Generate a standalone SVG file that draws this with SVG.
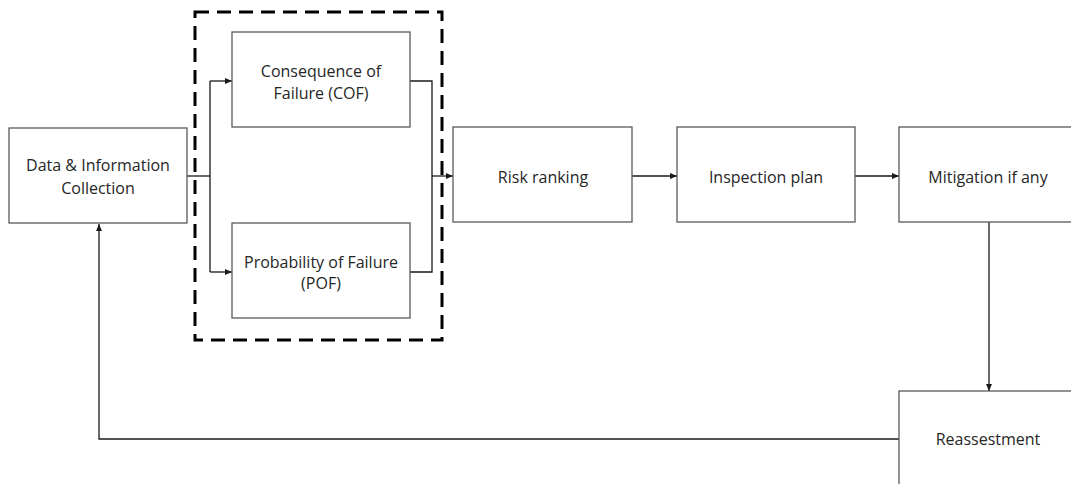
<svg xmlns="http://www.w3.org/2000/svg" width="1071" height="484" viewBox="0 0 1071 484">
  <defs>
    <marker id="arrow" markerWidth="7" markerHeight="6" refX="7" refY="3" orient="auto" markerUnits="userSpaceOnUse">
      <path d="M0,0 L7,3 L0,6 Z" fill="#1a1a1a"/>
    </marker>
    <style>
      .box { fill: #ffffff; stroke: #5a5a5a; stroke-width: 1.3; }
      .lbl { font-family: "Open Sans", "Liberation Sans", sans-serif; font-size: 16px; fill: #262626; text-anchor: middle; }
      .wire { fill: none; stroke: #1a1a1a; stroke-width: 1.3; }
      .group { fill: none; stroke: #000000; stroke-width: 3; stroke-dasharray: 14 8; }
    </style>
  </defs>
  <rect width="1071" height="484" fill="#ffffff"/>

  <!-- dashed grouping around the two assessment boxes -->
  <rect class="group" x="195" y="12" width="247" height="328"/>

  <g id="connectors">
    <!-- split to COF / POF -->
    <path class="wire" d="M187,176 H210"/>
    <path class="wire" d="M210,81 V272"/>
    <path class="wire" d="M210,81 H232" marker-end="url(#arrow)"/>
    <path class="wire" d="M210,272 H232" marker-end="url(#arrow)"/>
    <!-- merge into risk ranking -->
    <path class="wire" d="M410,81 H432 V272 H410"/>
    <path class="wire" d="M432,176 H453" marker-end="url(#arrow)"/>
    <path class="wire" d="M632,176 H677" marker-end="url(#arrow)"/>
    <path class="wire" d="M855,176 H899" marker-end="url(#arrow)"/>
    <path class="wire" d="M989,222 V391" marker-end="url(#arrow)"/>
    <!-- feedback loop -->
    <path class="wire" d="M899,439 H99 V224" marker-end="url(#arrow)"/>
  </g>

  <g id="data-collection">
    <rect class="box" x="9" y="128" width="178" height="95"/>
    <text class="lbl" x="98" y="171">Data &amp; Information</text>
    <text class="lbl" x="98" y="194">Collection</text>
  </g>

  <g id="cof">
    <rect class="box" x="232" y="32" width="178" height="95"/>
    <text class="lbl" x="321" y="77">Consequence of</text>
    <text class="lbl" x="321" y="99">Failure (COF)</text>
  </g>

  <g id="pof">
    <rect class="box" x="232" y="223" width="178" height="95"/>
    <text class="lbl" x="321" y="268">Probability of Failure</text>
    <text class="lbl" x="321" y="289">(POF)</text>
  </g>

  <g id="risk-ranking">
    <rect class="box" x="453" y="127" width="179" height="95"/>
    <text class="lbl" x="543" y="183">Risk ranking</text>
  </g>

  <g id="inspection-plan">
    <rect class="box" x="677" y="127" width="178" height="95"/>
    <text class="lbl" x="766" y="183">Inspection plan</text>
  </g>

  <g id="mitigation">
    <rect class="box" x="899" y="127" width="178" height="95"/>
    <text class="lbl" x="988" y="183">Mitigation if any</text>
  </g>

  <g id="reassessment">
    <rect class="box" x="899" y="391" width="178" height="100"/>
    <text class="lbl" x="988" y="445">Reassestment</text>
  </g>
</svg>
